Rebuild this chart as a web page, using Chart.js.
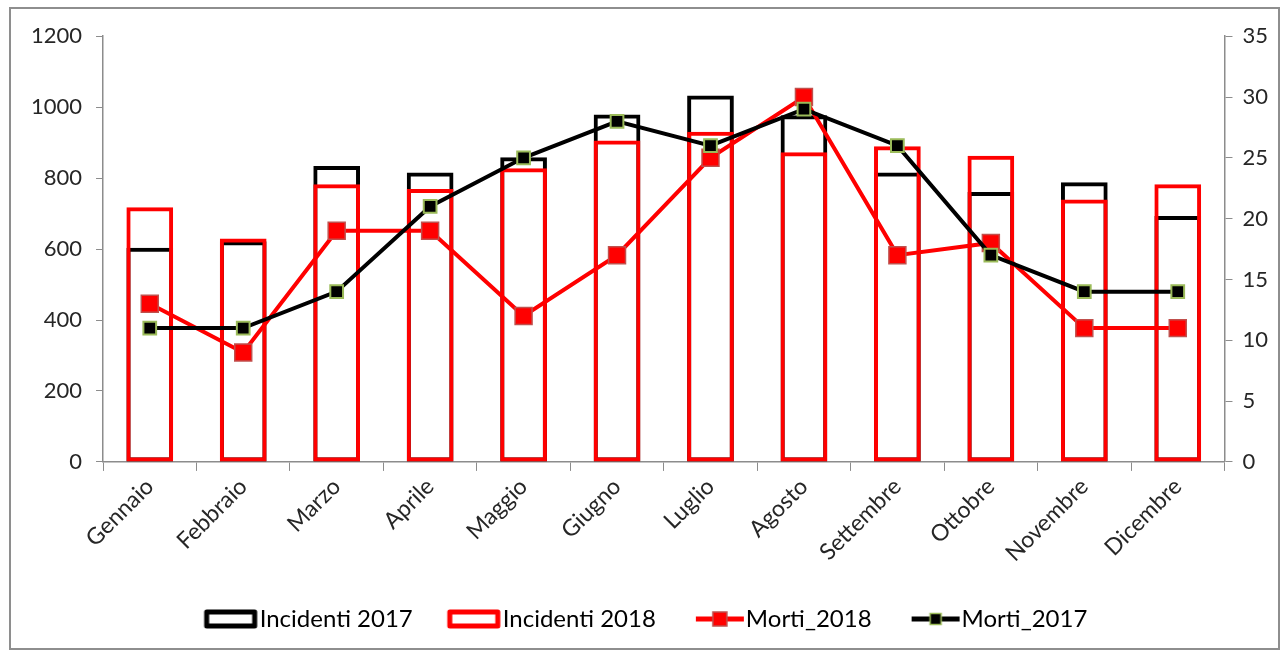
<!DOCTYPE html>
<html>
<head>
<meta charset="utf-8">
<script src="https://cdn.jsdelivr.net/npm/chart.js@4"></script>
<style>
body { margin: 0; background: #fff; }
#cornice { position: absolute; left: 9px; top: 7px; width: 1271px; height: 643px; border: 2px solid #8e8e8e; box-sizing: border-box; }
</style>
</head>
<body>
<div id="cornice"><canvas id="grafico"></canvas></div>
<script>
// dati
const mesi = ['Gennaio', 'Febbraio', 'Marzo', 'Aprile', 'Maggio', 'Giugno', 'Luglio', 'Agosto', 'Settembre', 'Ottobre', 'Novembre', 'Dicembre'];
const incidenti2017 = [604, 622, 834, 816, 859, 979, 1033, 977, 816, 761, 788, 693];
const incidenti2018 = [718, 630, 783, 769, 828, 906, 931, 873, 890, 863, 740, 783];
const morti2018 = [13, 9, 19, 19, 12, 17, 25, 30, 17, 18, 11, 11];
const morti2017 = [11, 11, 14, 21, 25, 28, 26, 29, 26, 17, 14, 14];
const tickIncidenti = [0, 200, 400, 600, 800, 1000, 1200];
const tickMorti = [0, 5, 10, 15, 20, 25, 30, 35];

const font = 'Lato';
const grigio = '#8c8c8c';
const testo = '#262626';

// icone della legenda (canvas largo 80, disegno spostato a destra per stare vicino al testo)
function iconaBarra(colore) {
  const c = document.createElement('canvas');
  c.width = 80; c.height = 20;
  const g = c.getContext('2d');
  g.strokeStyle = colore;
  g.lineWidth = 5;
  g.lineJoin = 'round';
  g.strokeRect(19, 3, 48, 14);
  return c;
}
function iconaLinea(colore, riempimento, bordo, lato) {
  const c = document.createElement('canvas');
  c.width = 80; c.height = 20;
  const g = c.getContext('2d');
  g.strokeStyle = colore;
  g.lineWidth = 5;
  g.beginPath(); g.moveTo(22, 10); g.lineTo(70, 10); g.stroke();
  g.fillStyle = riempimento;
  g.fillRect(46 - lato / 2, 10 - lato / 2, lato, lato);
  g.strokeStyle = bordo;
  g.lineWidth = 1.5;
  g.strokeRect(46 - lato / 2, 10 - lato / 2, lato, lato);
  return c;
}
const icone = [
  iconaBarra('#000000'),
  iconaBarra('#ff0000'),
  iconaLinea('#ff0000', '#ff0000', '#c0504d', 14),
  iconaLinea('#000000', '#000000', '#9bbb59', 11)
];

const ctx = document.getElementById('grafico').getContext('2d');
new Chart(ctx, {
  type: 'bar',
  data: {
    labels: mesi,
    datasets: [
      {
        label: 'Incidenti 2017',
        data: incidenti2017,
        backgroundColor: 'rgba(0,0,0,0)',
        borderColor: '#000000',
        borderWidth: 4,
        borderSkipped: false,
        grouped: false,
        categoryPercentage: 1,
        barPercentage: 0.5,
        yAxisID: 'y',
        order: 4
      },
      {
        label: 'Incidenti 2018',
        data: incidenti2018,
        backgroundColor: 'rgba(0,0,0,0)',
        borderColor: '#ff0000',
        borderWidth: 4,
        borderSkipped: false,
        grouped: false,
        categoryPercentage: 1,
        barPercentage: 0.5,
        yAxisID: 'y',
        order: 3
      },
      {
        type: 'line',
        label: 'Morti_2018',
        data: morti2018,
        borderColor: '#ff0000',
        borderWidth: 4,
        pointStyle: 'rect',
        pointRadius: 12,
        pointBackgroundColor: '#ff0000',
        pointBorderColor: '#c0504d',
        pointBorderWidth: 1.5,
        tension: 0,
        yAxisID: 'y1',
        order: 2
      },
      {
        type: 'line',
        label: 'Morti_2017',
        data: morti2017,
        borderColor: '#000000',
        borderWidth: 4,
        pointStyle: 'rect',
        pointRadius: 9,
        pointBackgroundColor: '#000000',
        pointBorderColor: '#9bbb59',
        pointBorderWidth: 2,
        tension: 0,
        yAxisID: 'y1',
        order: 1
      }
    ]
  },
  options: {
    responsive: true,
    maintainAspectRatio: false,
    animation: false,
    layout: { padding: { left: 6, right: 0, top: 25, bottom: 7 } },
    plugins: {
      tooltip: { enabled: false },
      legend: {
        position: 'bottom',
        labels: {
          usePointStyle: true,
          pointStyleWidth: 40,
          boxHeight: 20,
          padding: 38,
          color: '#000',
          font: { family: font, size: 24 },
          generateLabels: function (chart) {
            return chart.data.datasets.map(function (ds, i) {
              return { text: ds.label, pointStyle: icone[i], datasetIndex: i, fontColor: '#000', hidden: false, lineWidth: 0, strokeStyle: 'rgba(0,0,0,0)', fillStyle: 'rgba(0,0,0,0)' };
            });
          }
        }
      }
    },
    scales: {
      x: {
        grid: { drawOnChartArea: false, offset: true, tickLength: 9, color: grigio },
        border: { color: grigio, width: 1.5 },
        ticks: { maxRotation: 45, minRotation: 45, padding: 2, color: testo, font: { family: font, size: 23 } }
      },
      y: {
        position: 'left',
        min: 0,
        max: 1200,
        afterBuildTicks: function (axis) { axis.ticks = tickIncidenti.map(v => ({ value: v })); },
        grid: { drawOnChartArea: false, tickLength: 7, color: grigio },
        border: { color: grigio, width: 1.5 },
        ticks: { padding: 14, color: testo, font: { family: font, size: 22 }, callback: v => String(v) }
      },
      y1: {
        position: 'right',
        min: 0,
        max: 35,
        afterBuildTicks: function (axis) { axis.ticks = tickMorti.map(v => ({ value: v })); },
        grid: { drawOnChartArea: false, tickLength: 8, color: grigio },
        border: { color: grigio, width: 1.5 },
        ticks: { padding: 10, color: testo, font: { family: font, size: 22 }, callback: v => String(v) }
      }
    }
  }
});
</script>
</body>
</html>
